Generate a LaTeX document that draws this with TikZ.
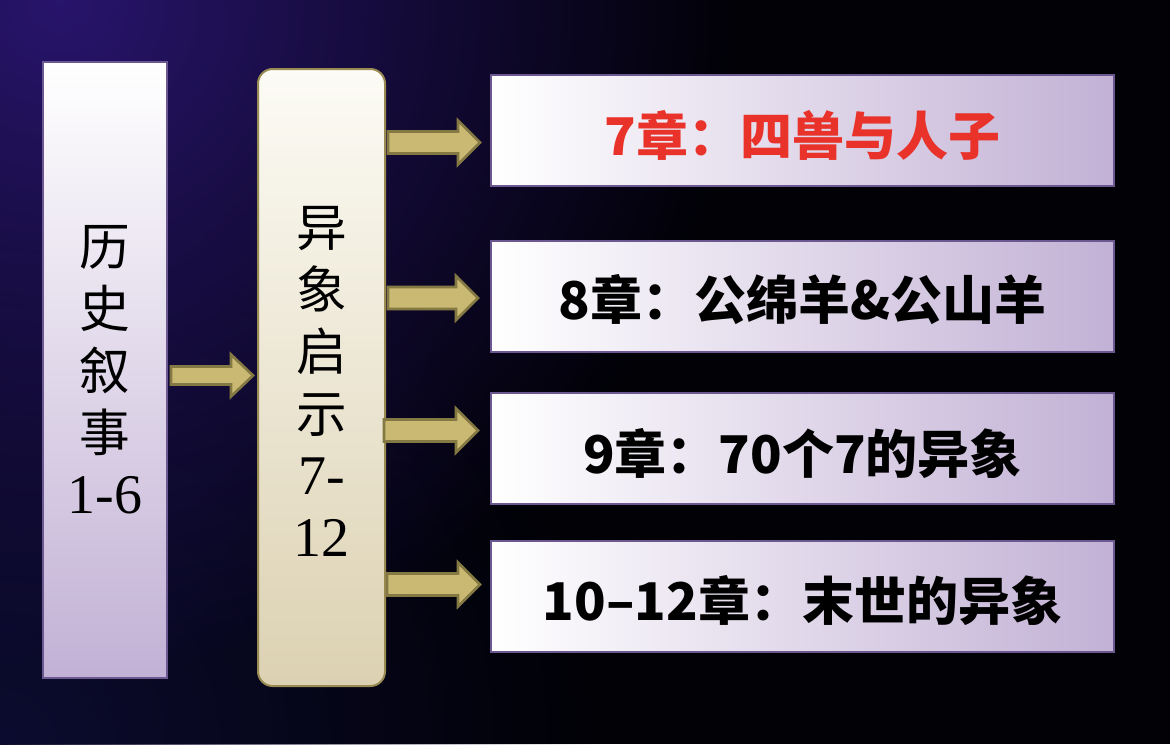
\documentclass[tikz,border=0pt]{standalone}
\usepackage{fontspec}
\newfontfamily\cjk{Noto Sans CJK SC}
\newfontfamily\serifdig{Liberation Serif}
\usetikzlibrary{calc,fadings}
\tikzfading[name=softglow, inner color=transparent!0, outer color=transparent!100]
\definecolor{bgdeep}{HTML}{010106}
\definecolor{bgglow}{HTML}{28156C}
\definecolor{bgnavy}{HTML}{0C0C30}
\definecolor{lav}{HTML}{C2B1D5}
\definecolor{lavborder}{HTML}{6C5890}
\definecolor{creamtop}{HTML}{FCFBF5}
\definecolor{creambot}{HTML}{DCD1B2}
\definecolor{creamborder}{HTML}{9A8B52}
\definecolor{khaki}{HTML}{C9B972}
\definecolor{khakiborder}{HTML}{857943}
\definecolor{redtext}{HTML}{E8322A}
\tikzset{
  histbox/.style={rectangle, draw=lavborder, line width=1.5pt, top color=white, bottom color=lav, inner sep=0pt, outer sep=0pt},
  visionbox/.style={rectangle, rounded corners=11pt, draw=creamborder, line width=1.5pt, top color=creamtop, bottom color=creambot, inner sep=0pt, outer sep=0pt},
  chapbox/.style={rectangle, draw=lavborder, line width=1.5pt, left color=white, right color=lav, inner sep=0pt, outer sep=0pt, minimum width=467.25pt, minimum height=83.25pt},
  vtext/.style={align=center, font={\cjk\fontsize{38}{46.5}\selectfont}},
  chaptext/.style={font={\cjk\bfseries\fontsize{39}{44}\selectfont}},
  blockarrow/.style={fill=khaki, draw=khakiborder, line width=2pt, line join=miter},
}
\newcommand{\barrow}[4]{% start, tip, shaft half, head half
  \draw[blockarrow] ($(#1)+(0,#3)$) -- ($(#2)+(-22,#3)$) -- ($(#2)+(-22,#4)$) -- (#2)
    -- ($(#2)+(-22,-#4)$) -- ($(#2)+(-22,-#3)$) -- ($(#1)+(0,-#3)$) -- cycle;}
\begin{document}
\begin{tikzpicture}[x=0.75pt,y=-0.75pt]
\useasboundingbox (0,0) rectangle (1170,744);
\begin{scope}
  \clip (0,0) rectangle (1170,744);
  \fill[bgdeep] (0,0) rectangle (1170,744);
  \fill[bgnavy, path fading=softglow] (0,744) circle (600);
  \fill[bgglow, path fading=softglow] (60,0) circle (680);
\end{scope}
% boxes
\node[histbox, minimum width=93pt, minimum height=462pt] (A) at (105,370) {};
\node[vtext] (Atext) at (A.center) {历\\史\\叙\\事\\{\serifdig\fontsize{42}{46.5}\selectfont 1-6}};
\node[visionbox, minimum width=95.25pt, minimum height=462.75pt] (B) at (321.5,377.5) {};
\node[vtext] (Btext) at ($(B.center)+(0,4)$) {异\\象\\启\\示\\{\serifdig\fontsize{42}{46.5}\selectfont 7-}\\{\serifdig\fontsize{42}{46.5}\selectfont 12}};
\node[chapbox] (R1) at (802.5,130.5) {};
\node[chapbox] (R2) at (802.5,296) {};
\node[chapbox] (R3) at (802.5,448.5) {};
\node[chapbox] (R4) at (802.5,596.5) {};
\node[chaptext, text=redtext] (T1) at ($(R1.center)+(0,5)$) {7章：四兽与人子};
\node[chaptext] (T2) at ($(R2.center)+(0,4)$) {8章：公绵羊\&公山羊};
\node[chaptext] (T3) at ($(R3.center)+(0,5)$) {9章：70个7的异象};
\node[chaptext] (T4) at ($(R4.center)+(0,4)$) {10–12章：末世的异象};
% arrow anchors
\coordinate (a0s) at ($(A.east |- B.west)+(4,-2)$);
\coordinate (a0t) at ($(B.west)+(-5,-2)$);
\coordinate (a1t) at ($(R1.west)+(-11,12)$);
\coordinate (a2t) at ($(R2.west)+(-13,2)$);
\coordinate (a3t) at ($(R3.west)+(-13,-18)$);
\coordinate (a4t) at ($(R4.west)+(-11,-12)$);
\coordinate (a1s) at ($(B.east |- a1t)+(3,0)$);
\coordinate (a2s) at ($(B.east |- a2t)+(3,0)$);
\coordinate (a3s) at ($(B.east |- a3t)+(-1,0)$);
\coordinate (a4s) at ($(B.east |- a4t)+(2,0)$);
\barrow{a0s}{a0t}{9}{21}
\barrow{a1s}{a1t}{11}{22}
\barrow{a2s}{a2t}{11}{22}
\barrow{a3s}{a3t}{11}{22}
\barrow{a4s}{a4t}{11}{22}
\end{tikzpicture}
\end{document}
